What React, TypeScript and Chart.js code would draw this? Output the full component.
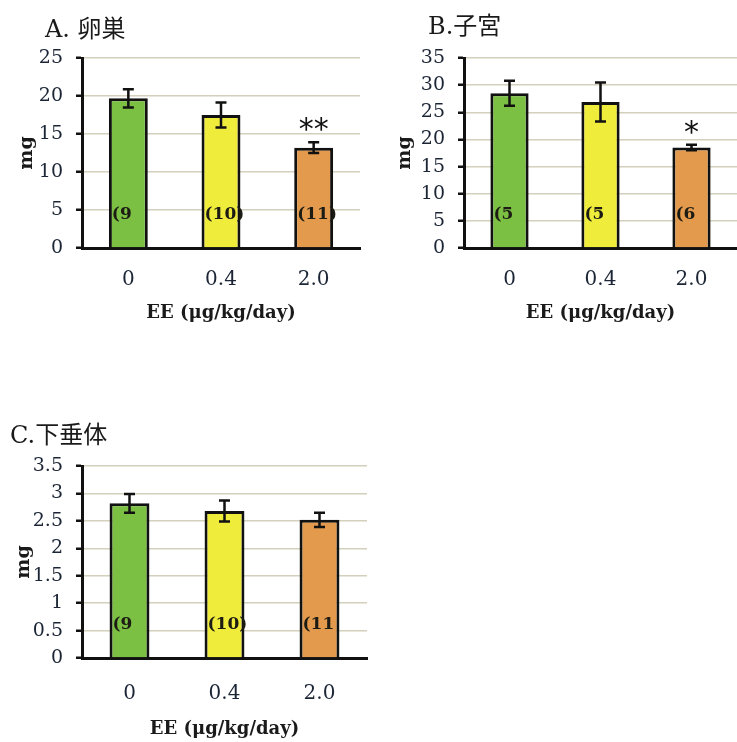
import { useEffect, useRef } from 'react';
import { Chart, registerables } from 'chart.js';

Chart.register(...registerables);

// Dose groups (EE, µg/kg/day) and bar fill per group
const doseLabels = ['0', '0.4', '2.0'];
const barColors = ['#7bc043', '#efec3c', '#e39a4c'];

// A. Ovary weight (mg): mean, SE, group size text, significance marks
const ovaryMean = [19.7, 17.5, 13.2];
const ovarySE = [1.2, 1.65, 0.7];
const ovaryN = ['(9', '(10)', '(11)'];
const ovaryMarks = ['', '', '**'];

// B. Uterus weight (mg)
const uterusMean = [28.5, 26.9, 18.5];
const uterusSE = [2.3, 3.6, 0.5];
const uterusN = ['(5', '(5', '(6'];
const uterusMarks = ['', '', '*'];

// C. Pituitary weight (mg)
const pituitaryMean = [2.82, 2.68, 2.52];
const pituitarySE = [0.17, 0.19, 0.13];
const pituitaryN = ['(9', '(10)', '(11'];
const pituitaryMarks = ['', '', ''];

const SERIF = '"DejaVu Serif", "Noto Sans CJK JP", serif';
const TICK_COLOR = '#1b2535';
const INK = '#111111';

type PanelProps = {
  left: number;
  top: number;
  width: number;
  height: number;
  title: string;
  titleX: number;
  titleY: number;
  mean: number[];
  se: number[];
  nLabels: string[];
  marks: string[];
  yMax: number;
  yStep: number;
  padTop: number;
  padRight: number;
  yWidth: number;
  xHeight: number;
  yTitlePad: number;
  xTickPad: number;
  xTitlePad: number;
};

function Panel(p: PanelProps) {
  const ref = useRef<HTMLCanvasElement | null>(null);

  useEffect(() => {
    const canvas = ref.current;
    if (!canvas) return;

    const overlay = {
      id: 'panelOverlay',
      afterDatasetsDraw(chart: any) {
        const ctx = chart.ctx as CanvasRenderingContext2D;
        const yScale = chart.scales.y;
        const meta = chart.getDatasetMeta(0);
        ctx.save();
        meta.data.forEach((bar: any, i: number) => {
          const x = bar.x;
          const w = bar.width;
          const yHi = yScale.getPixelForValue(p.mean[i] + p.se[i]);
          const yLo = yScale.getPixelForValue(p.mean[i] - p.se[i]);
          // error bar
          ctx.strokeStyle = INK;
          ctx.lineWidth = 2.5;
          ctx.beginPath();
          ctx.moveTo(x, yHi);
          ctx.lineTo(x, yLo);
          ctx.moveTo(x - 5.5, yHi);
          ctx.lineTo(x + 5.5, yHi);
          ctx.moveTo(x - 5.5, yLo);
          ctx.lineTo(x + 5.5, yLo);
          ctx.stroke();
          // group size
          ctx.fillStyle = '#1c1c14';
          ctx.font = `bold 17px ${SERIF}`;
          ctx.textAlign = 'left';
          ctx.textBaseline = 'middle';
          ctx.fillText(p.nLabels[i], x - w / 2 + 3, yScale.bottom - 33);
          // significance
          if (p.marks[i]) {
            ctx.fillStyle = INK;
            ctx.font = '30px "DejaVu Sans", sans-serif';
            ctx.textAlign = 'center';
            ctx.textBaseline = 'alphabetic';
            ctx.fillText(p.marks[i], x, yHi - 3);
          }
        });
        // panel heading
        ctx.fillStyle = '#1a1a1a';
        ctx.font = `24px ${SERIF}`;
        ctx.textAlign = 'left';
        ctx.textBaseline = 'alphabetic';
        ctx.fillText(p.title, p.titleX, p.titleY);
        ctx.restore();
      },
    };

    const chart = new Chart(canvas, {
      type: 'bar',
      data: {
        labels: doseLabels,
        datasets: [
          {
            data: p.mean,
            backgroundColor: barColors,
            borderColor: INK,
            borderWidth: 3,
            borderSkipped: 'start',
            barPercentage: 0.42,
            categoryPercentage: 1,
          },
        ],
      },
      options: {
        responsive: false,
        animation: false,
        layout: { padding: { top: p.padTop, right: p.padRight, left: 0, bottom: 0 } },
        plugins: {
          legend: { display: false },
          tooltip: { enabled: false },
          title: { display: false },
        },
        scales: {
          x: {
            grid: { display: false, drawTicks: false },
            border: { display: true, color: INK, width: 3 },
            ticks: { color: TICK_COLOR, font: { family: SERIF, size: 20 }, padding: p.xTickPad },
            title: {
              display: true,
              text: 'EE (μg/kg/day)',
              color: '#1a1a1a',
              font: { family: SERIF, size: 18, weight: 'bold' },
              padding: { top: 0, bottom: p.xTitlePad },
            },
            afterFit: (s: any) => {
              s.height = p.xHeight;
            },
          },
          y: {
            min: 0,
            max: p.yMax,
            ticks: {
              stepSize: p.yStep,
              color: TICK_COLOR,
              font: { family: SERIF, size: 19 },
              padding: 13,
              callback: (v: any) => String(Number(v)),
            },
            grid: {
              color: '#d3d0bb',
              lineWidth: 1.5,
              tickColor: INK,
              tickLength: 6,
              tickWidth: 2.5,
            },
            border: { color: INK, width: 3 },
            title: {
              display: true,
              text: 'mg',
              color: '#1a1a1a',
              font: { family: SERIF, size: 19, weight: 'bold' },
              padding: { top: p.yTitlePad, bottom: 0 },
            },
            afterFit: (s: any) => {
              s.width = p.yWidth;
            },
          },
        },
      },
      plugins: [overlay],
    } as any);

    return () => chart.destroy();
  }, []);

  return (
    <canvas
      ref={ref}
      width={p.width}
      height={p.height}
      style={{ position: 'absolute', left: p.left, top: p.top, width: p.width, height: p.height }}
    />
  );
}

export default function App() {
  return (
    <div
      style={{
        position: 'absolute',
        left: 0,
        top: 0,
        width: 737,
        height: 742,
        background: '#ffffff',
        overflow: 'hidden',
      }}
    >
      <Panel
        left={0}
        top={0}
        width={370}
        height={340}
        title="A. 卵巣"
        titleX={45}
        titleY={37}
        mean={ovaryMean}
        se={ovarySE}
        nLabels={ovaryN}
        marks={ovaryMarks}
        yMax={25}
        yStep={5}
        padTop={58}
        padRight={10}
        yWidth={82}
        xHeight={92}
        yTitlePad={16}
        xTickPad={20}
        xTitlePad={16}
      />
      <Panel
        left={370}
        top={0}
        width={367}
        height={340}
        title="B.子宮"
        titleX={58}
        titleY={34}
        mean={uterusMean}
        se={uterusSE}
        nLabels={uterusN}
        marks={uterusMarks}
        yMax={35}
        yStep={5}
        padTop={58}
        padRight={0}
        yWidth={94}
        xHeight={92}
        yTitlePad={24}
        xTickPad={20}
        xTitlePad={16}
      />
      <Panel
        left={0}
        top={400}
        width={370}
        height={342}
        title="C.下垂体"
        titleX={10}
        titleY={43}
        mean={pituitaryMean}
        se={pituitarySE}
        nLabels={pituitaryN}
        marks={pituitaryMarks}
        yMax={3.5}
        yStep={0.5}
        padTop={66}
        padRight={3}
        yWidth={82}
        xHeight={84}
        yTitlePad={13}
        xTickPad={24}
        xTitlePad={2}
      />
    </div>
  );
}
